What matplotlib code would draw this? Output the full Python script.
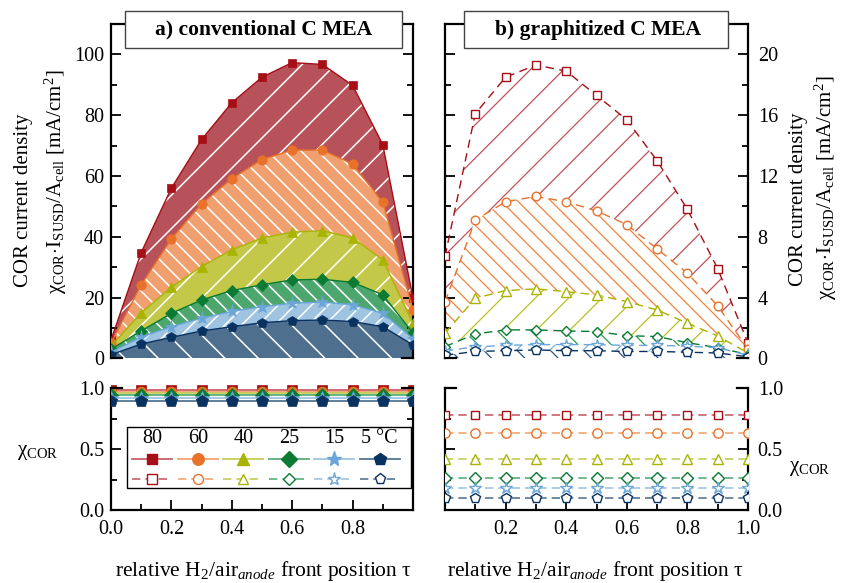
import numpy as np
import matplotlib
matplotlib.use("Agg")
import matplotlib.pyplot as plt
from matplotlib.patches import Rectangle
from matplotlib.lines import Line2D
from matplotlib.ticker import FixedLocator, MultipleLocator

plt.rcParams['font.family'] = ['Liberation Serif', 'DejaVu Serif']
plt.rcParams['mathtext.fontset'] = 'custom'
plt.rcParams['mathtext.rm'] = 'Liberation Serif'
plt.rcParams['mathtext.it'] = 'Liberation Serif:italic'
plt.rcParams['mathtext.bf'] = 'Liberation Serif:bold'
plt.rcParams['hatch.linewidth'] = 1.1

# relative H2/air front position
tau = [0.0, 0.1, 0.2, 0.3, 0.4, 0.5, 0.6, 0.7, 0.8, 0.9, 1.0]
temp_labels = ['80', '60', '40', '25', '15', '5 °C']

# COR current density, conventional C MEA [mA/cm2]
conv_80 = [6.0, 34.8, 56.0, 72.0, 84.1, 92.5, 97.3, 96.7, 89.8, 70.3, 19.8]
conv_60 = [5.0, 24.2, 39.3, 50.8, 59.1, 65.4, 68.5, 68.5, 63.9, 51.3, 16.0]
conv_40 = [4.0, 15.0, 23.4, 30.2, 35.7, 39.6, 41.5, 42.0, 39.6, 32.4, 11.5]
conv_25 = [3.0, 9.0, 14.8, 19.2, 22.3, 24.2, 25.8, 26.0, 25.0, 20.9, 8.3]
conv_15 = [2.0, 7.0, 10.4, 13.2, 15.4, 17.0, 18.1, 18.5, 17.6, 14.8, 6.5]
conv_5 = [1.2, 4.7, 6.9, 9.0, 10.4, 11.7, 12.4, 12.6, 12.1, 10.4, 4.4]

# COR current density, graphitized C MEA [mA/cm2]
graph_80 = [6.7, 16.1, 18.5, 19.3, 18.9, 17.3, 15.7, 13.0, 9.8, 5.9, 1.0]
graph_60 = [3.7, 9.1, 10.3, 10.65, 10.3, 9.7, 8.8, 7.2, 5.6, 3.45, 0.6]
graph_40 = [1.65, 3.95, 4.46, 4.57, 4.39, 4.17, 3.73, 3.18, 2.31, 1.47, 0.35]
graph_25 = [0.77, 1.6, 1.87, 1.87, 1.8, 1.76, 1.49, 1.43, 1.03, 0.7, 0.25]
graph_15 = [0.5, 0.75, 0.85, 0.9, 0.9, 0.9, 0.85, 0.85, 0.8, 0.7, 0.2]
graph_5 = [0.2, 0.45, 0.5, 0.55, 0.5, 0.5, 0.45, 0.45, 0.4, 0.35, 0.1]

# COR fraction chi_COR
chi_conv_80 = [0.98, 0.98, 0.98, 0.98, 0.98, 0.98, 0.98, 0.98, 0.98, 0.98, 0.98]
chi_conv_60 = [0.97, 0.97, 0.97, 0.97, 0.97, 0.97, 0.97, 0.97, 0.97, 0.97, 0.97]
chi_conv_40 = [0.96, 0.96, 0.96, 0.96, 0.96, 0.96, 0.96, 0.96, 0.96, 0.96, 0.96]
chi_conv_25 = [0.94, 0.94, 0.94, 0.94, 0.94, 0.94, 0.94, 0.94, 0.94, 0.94, 0.94]
chi_conv_15 = [0.92, 0.92, 0.92, 0.92, 0.92, 0.92, 0.92, 0.92, 0.92, 0.92, 0.92]
chi_conv_5 = [0.89, 0.89, 0.89, 0.89, 0.89, 0.89, 0.89, 0.89, 0.89, 0.89, 0.89]

chi_graph_80 = [0.78, 0.78, 0.78, 0.78, 0.78, 0.78, 0.78, 0.78, 0.78, 0.78, 0.78]
chi_graph_60 = [0.63, 0.63, 0.63, 0.63, 0.63, 0.63, 0.63, 0.63, 0.63, 0.63, 0.63]
chi_graph_40 = [0.415, 0.415, 0.415, 0.415, 0.415, 0.415, 0.415, 0.415, 0.415, 0.415, 0.415]
chi_graph_25 = [0.26, 0.26, 0.26, 0.26, 0.26, 0.26, 0.26, 0.26, 0.26, 0.26, 0.26]
chi_graph_15 = [0.178, 0.178, 0.178, 0.178, 0.178, 0.178, 0.178, 0.178, 0.178, 0.178, 0.178]
chi_graph_5 = [0.10, 0.10, 0.10, 0.10, 0.10, 0.10, 0.10, 0.10, 0.10, 0.10, 0.10]

conv_series = [conv_80, conv_60, conv_40, conv_25, conv_15, conv_5]
graph_series = [graph_80, graph_60, graph_40, graph_25, graph_15, graph_5]
chi_conv = [chi_conv_80, chi_conv_60, chi_conv_40, chi_conv_25, chi_conv_15, chi_conv_5]
chi_graph = [chi_graph_80, chi_graph_60, chi_graph_40, chi_graph_25, chi_graph_15, chi_graph_5]

# styling per temperature
mark_col = ['#A50F15', '#E8722A', '#A9B400', '#0B7A32', '#6BA6D8', '#0A3260']
fill_col = ['#B8525A', '#F0A06E', '#C4C848', '#4CA66E', '#9EC4E2', '#4E708E']
line_col = ['#C8606A', '#F3A46E', '#C6CB5A', '#5AAE78', '#9EC4E2', '#557592']
hatch_col = ['#C0505C', '#F08440', '#B8C224', '#2E9A50', '#7AB0DD', '#2A5680']
markers = ['s', 'o', '^', 'D', '*', 'p']
msize = [6.2, 6.8, 7.0, 6.2, 9.5, 7.6]
msize_open = [5.6, 6.2, 6.6, 5.6, 8.5, 7.0]
hatch_conv = ['/', '\\\\', '/', '\\\\', '//', '\\']
hatch_graph = ['/', '\\\\', '/', '\\', '/', '\\']

W, H = 844, 583
fig = plt.figure(figsize=(W / 100, H / 100), dpi=100)


def ax_rect(x0, y0, x1, y1):
    return [x0 / W, 1 - y1 / H, (x1 - x0) / W, (y1 - y0) / H]


ax_tl = fig.add_axes(ax_rect(111, 24, 413, 358.3))
ax_tr = fig.add_axes(ax_rect(445, 24, 748, 358.3))
ax_bl = fig.add_axes(ax_rect(111, 388, 413, 510))
ax_br = fig.add_axes(ax_rect(445, 388, 748, 510))

SPW = 1.6
for ax in (ax_tl, ax_tr, ax_bl, ax_br):
    ax.set_xlim(0, 1.0)
    for s in ax.spines.values():
        s.set_linewidth(SPW)
    ax.tick_params(which='major', direction='in', length=7.5, width=1.3,
                   labelsize=14.5, pad=5)
    ax.tick_params(which='minor', direction='in', length=4.5, width=1.3)


def corner_stubs(ax, y, frac=0.035):
    for xs in ([0, frac], [1 - frac, 1]):
        ax.add_line(Line2D(xs, [y, y], transform=ax.transAxes, color='black',
                           lw=SPW, clip_on=False, solid_capstyle='projecting',
                           zorder=5))


# ---- top panels: current density ----
for ax, series, ymax, step in ((ax_tl, conv_series, 110, 20),
                               (ax_tr, graph_series, 22, 4)):
    ax.set_ylim(0, ymax)
    ax.yaxis.set_major_locator(MultipleLocator(step))
    ax.yaxis.set_minor_locator(MultipleLocator(step / 2))
    ax.spines['bottom'].set_visible(False)
    ax.tick_params(axis='x', which='both', bottom=False, labelbottom=False)
    ax.tick_params(axis='y', which='both', left=True, right=True)
    corner_stubs(ax, 0)

ax_tl.tick_params(axis='y', labelleft=True, labelright=False)
ax_tr.tick_params(axis='y', labelleft=False, labelright=True, pad=7)
ax_tr.set_yticks([0, 4, 8, 12, 16, 20])

for i, y in enumerate(conv_series):
    ax_tl.fill_between(tau, 0, y, facecolor=fill_col[i], edgecolor='white',
                       linewidth=0, hatch=hatch_conv[i], zorder=1 + 0.01 * i)
for i, y in enumerate(conv_series):
    ax_tl.plot(tau, y, color=mark_col[i], lw=1.0, marker=markers[i],
               ms=msize[i], mfc=mark_col[i], mec=mark_col[i], mew=0.5,
               zorder=3 + 0.01 * i)

with plt.rc_context({'hatch.linewidth': 0.9}):
    for i, y in enumerate(graph_series):
        ax_tr.fill_between(tau, 0, y, facecolor='white',
                           edgecolor=hatch_col[i], linewidth=0,
                           hatch=hatch_graph[i], zorder=1 + 0.01 * i)
for i, y in enumerate(graph_series):
    ax_tr.plot(tau, y, color=mark_col[i], lw=1.0, dashes=(6, 4),
               marker=markers[i], ms=msize_open[i], mfc='white',
               mec=mark_col[i], mew=1.0, zorder=3 + 0.01 * i)

# ---- bottom panels: chi_COR ----
for ax in (ax_bl, ax_br):
    ax.set_ylim(0, 1.0)
    ax.yaxis.set_major_locator(FixedLocator([0.0, 0.5, 1.0]))
    ax.yaxis.set_minor_locator(FixedLocator([0.25, 0.75]))
    ax.xaxis.set_major_locator(FixedLocator([0.0, 0.2, 0.4, 0.6, 0.8, 1.0]))
    ax.xaxis.set_minor_locator(FixedLocator([0.1, 0.3, 0.5, 0.7, 0.9]))
    ax.spines['top'].set_visible(False)
    ax.tick_params(axis='x', which='both', bottom=True, top=False, pad=7)
    ax.tick_params(axis='y', which='both', left=True, right=True)
    corner_stubs(ax, 1)

ax_bl.set_yticklabels(['0.0', '0.5', '1.0'])
ax_bl.set_xticklabels(['0.0', '0.2', '0.4', '0.6', '0.8', ''])
ax_br.set_yticklabels(['0.0', '0.5', '1.0'])
ax_br.set_xticklabels(['', '0.2', '0.4', '0.6', '0.8', '1.0'])
ax_br.tick_params(axis='y', labelleft=False, labelright=True, pad=7)

clip_bl = Rectangle((0, -1), 1, 3, transform=ax_bl.transAxes, visible=False)
ax_bl.add_patch(clip_bl)
for i, y in enumerate(chi_conv):
    ln, = ax_bl.plot(tau, y, color=line_col[i], lw=1.3, marker=markers[i],
                     ms=msize[i] + 1, mfc=mark_col[i], mec=mark_col[i],
                     mew=0.5, zorder=3 + 0.01 * i)
    ln.set_clip_path(clip_bl)

for i, y in enumerate(chi_graph):
    ax_br.plot(tau, y, color=line_col[i], lw=1.2, dashes=(5, 3),
               marker=markers[i], ms=msize_open[i] + 0.5, mfc='white',
               mec=mark_col[i], mew=1.0, zorder=3 + 0.01 * i)

# legend block inside the lower left panel
ax_bl.add_patch(Rectangle((0.053, 0.178), 0.939, 0.505,
                          transform=ax_bl.transAxes, facecolor='white',
                          edgecolor='black', lw=1.0, zorder=6))
col_x0, col_dx, half = 0.137, 0.1505, 0.066
for k in range(6):
    cx = col_x0 + k * col_dx
    ax_bl.text(cx, 0.59, temp_labels[k], transform=ax_bl.transAxes,
               ha='center', va='center', fontsize=14.5, zorder=7)
    ax_bl.add_line(Line2D([cx - half, cx + half], [0.416, 0.416],
                          transform=ax_bl.transAxes, color=line_col[k],
                          lw=1.3, zorder=7))
    ax_bl.add_line(Line2D([cx], [0.416], transform=ax_bl.transAxes,
                          marker=markers[k], ms=msize[k] + 1.5,
                          mfc=mark_col[k], mec=mark_col[k], lw=0, zorder=8))
    ax_bl.add_line(Line2D([cx - half, cx + half], [0.254, 0.254],
                          transform=ax_bl.transAxes, color=line_col[k],
                          lw=1.2, dashes=(5, 3), zorder=7))
    ax_bl.add_line(Line2D([cx], [0.254], transform=ax_bl.transAxes,
                          marker=markers[k], ms=msize_open[k] + 1.0,
                          mfc='white', mec=mark_col[k], mew=1.0, lw=0,
                          zorder=8))

# panel titles
for ax, title, x0, x1 in ((ax_tl, 'a) conventional C MEA', 0.0464, 0.9636),
                          (ax_tr, 'b) graphitized C MEA', 0.0637, 0.935)):
    ax.add_patch(Rectangle((x0, 0.9282), x1 - x0, 0.1107,
                           transform=ax.transAxes, facecolor='white',
                           edgecolor='#444444', lw=1.0, clip_on=False,
                           zorder=10))
    ax.text(0.505, 0.9835, title, transform=ax.transAxes, ha='center',
            va='center', fontsize=15.5, fontweight='bold', zorder=11)

# axis labels
ylab1 = 'COR current density'
ylab2 = (r'$\mathrm{χ}_\mathrm{COR}\!\cdot\!\mathrm{I}_\mathrm{SUSD}'
         r'/\mathrm{A}_\mathrm{cell}$ [mA/cm$^2$]')
fig.text(24 / W, 1 - 200 / H, ylab1, rotation=90, ha='center', va='center',
         fontsize=15)
fig.text(56 / W, 1 - 182 / H, ylab2, rotation=90, ha='center', va='center',
         fontsize=15)
fig.text(798 / W, 1 - 199 / H, ylab1, rotation=90, ha='center', va='center',
         fontsize=15)
fig.text(826 / W, 1 - 188 / H, ylab2, rotation=90, ha='center', va='center',
         fontsize=15)

chi_lab = r'$\mathrm{χ}_\mathrm{COR}$'
fig.text(38 / W, 1 - 452 / H, chi_lab, ha='center', va='center', fontsize=15)
fig.text(810 / W, 1 - 468 / H, chi_lab, ha='center', va='center', fontsize=15)

xlab = r'relative H$_2$/air$_{\mathit{anode}}$ front position τ'
fig.text(264 / W, 1 - 571 / H, xlab, ha='center', va='center', fontsize=15.5)
fig.text(596 / W, 1 - 571 / H, xlab, ha='center', va='center', fontsize=15.5)

fig.savefig('out.png', dpi=100)
